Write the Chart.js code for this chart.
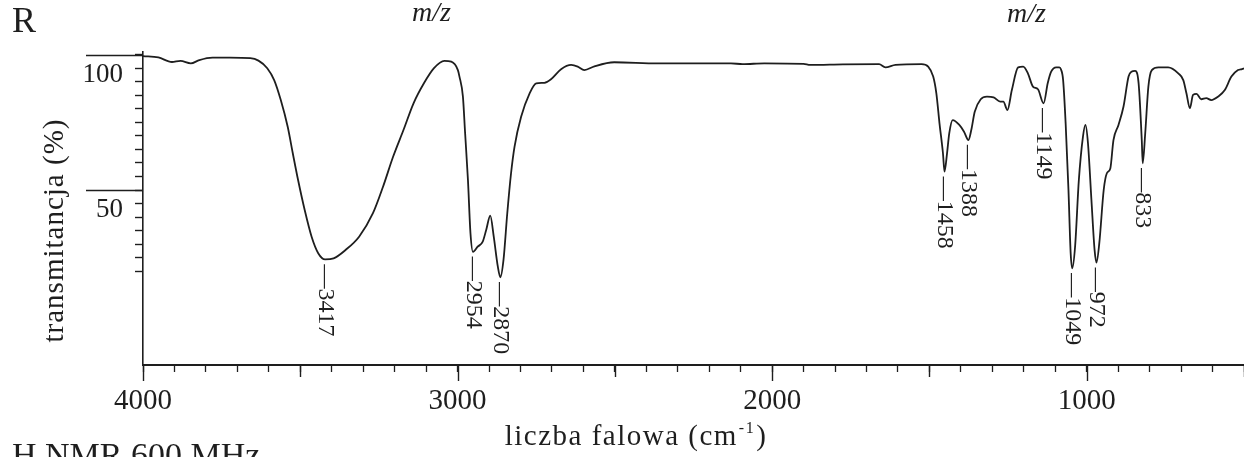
<!DOCTYPE html>
<html>
<head>
<meta charset="utf-8">
<script src="https://cdn.jsdelivr.net/npm/chart.js@4.4.1/dist/chart.umd.min.js"></script>
<style>
html,body{margin:0;padding:0;background:#fff;overflow:hidden}
canvas{display:block}
</style>
</head>
<body>
<canvas id="c" width="1244" height="457"></canvas>
<script>
// ---- data ----
const wavenumbers = [4000, 3951, 3908, 3881, 3848, 3821, 3779, 3724, 3659, 3633, 3605, 3583, 3562, 3540, 3524, 3507, 3486, 3464, 3443, 3421, 3394, 3356, 3313, 3269, 3237, 3205, 3172, 3140, 3107, 3075, 3042, 3020, 2999, 2994, 2983, 2976, 2967, 2959, 2951, 2936, 2920, 2909, 2896, 2885, 2872, 2864, 2854, 2842, 2830, 2819, 2798, 2771, 2750, 2724, 2703, 2671, 2639, 2618, 2597, 2565, 2502, 2364, 2131, 2094, 2025, 1900, 1879, 1775, 1660, 1640, 1608, 1525, 1504, 1488, 1478, 1468, 1457, 1452, 1444, 1437, 1426, 1405, 1390, 1376, 1367, 1356, 1337, 1317, 1296, 1275, 1265, 1252, 1238, 1218, 1202, 1187, 1171, 1155, 1137, 1124, 1113, 1097, 1087, 1082, 1075, 1067, 1058, 1051, 1046, 1037, 1025, 1012, 1004, 996, 985, 975, 969, 960, 946, 936, 925, 915, 899, 883, 867, 858, 846, 835, 825, 822, 814, 804, 793, 772, 741, 709, 693, 683, 672, 662, 651, 636, 620, 604, 582, 561, 540, 519, 506, 500];
const transmittance = [99.6, 99.1, 97.4, 97.8, 96.9, 98.1, 99.0, 99.0, 98.8, 97.9, 95.1, 90.7, 83.3, 73.4, 63.7, 53.7, 42.6, 32.7, 26.6, 24.3, 24.7, 27.8, 32.7, 41.4, 51.2, 62.3, 72.2, 82.1, 89.5, 95.1, 97.8, 97.5, 94.4, 92.0, 84.6, 71.0, 53.7, 34.0, 27.1, 29.0, 30.9, 35.2, 40.5, 32.7, 21.6, 17.7, 24.1, 41.4, 56.2, 66.0, 77.1, 85.8, 89.5, 89.7, 91.0, 94.7, 96.3, 95.7, 94.4, 95.8, 97.3, 96.9, 96.9, 96.6, 96.9, 96.7, 96.3, 96.5, 96.6, 95.4, 96.3, 96.6, 95.7, 92.0, 85.8, 74.7, 63.6, 56.8, 63.6, 71.0, 75.9, 74.1, 71.6, 68.5, 72.2, 79.0, 83.6, 84.6, 84.3, 82.7, 82.7, 79.6, 87.0, 95.4, 95.7, 93.2, 88.3, 87.3, 82.1, 89.5, 93.8, 95.4, 95.4, 94.7, 90.7, 74.7, 50.0, 26.6, 21.0, 29.0, 53.7, 69.7, 74.1, 67.3, 46.3, 27.8, 23.1, 30.3, 50.0, 56.2, 58.0, 68.5, 74.1, 80.9, 92.0, 93.8, 94.1, 89.5, 68.5, 59.9, 71.0, 88.3, 94.4, 95.4, 95.4, 93.2, 90.7, 85.8, 80.3, 85.2, 85.6, 83.6, 84.0, 83.3, 84.6, 87.0, 92.0, 94.4, 94.8, 95.0];
const peakLabels = [3417, 2954, 2870, 1458, 1388, 1149, 1049, 972, 833];
const xTickValues = [4000, 3900, 3800, 3700, 3600, 3500, 3400, 3300, 3200, 3100, 3000, 2900, 2800, 2700, 2600, 2500, 2400, 2300, 2200, 2100, 2000, 1900, 1800, 1700, 1600, 1500, 1400, 1300, 1200, 1100, 1000, 900, 800, 700, 600, 500];
const xTickLabels = [4000, 3000, 2000, 1000];
const yTickValues = [100, 95, 90, 85, 80, 75, 70, 65, 60, 55, 50, 45, 40, 35, 30, 25, 20];
const yTickLabels = [100, 50];
const xTitle = 'liczba falowa (cm';
const xTitleSup = '-1';
const xTitleEnd = ')';
const yTitle = 'transmitancja (%)';
const strayTexts = ['R', 'm/z', 'm/z', 'H NMR 600 MHz'];

// ---- styling ----
const SERIF = "'Liberation Serif', 'Times New Roman', serif";
const INK = '#1e1e1e';

const annot = {
  id: 'annot',
  beforeDraw(chart) {
    const c = chart.ctx;
    c.save(); c.fillStyle = '#fff'; c.fillRect(0, 0, chart.width, chart.height); c.restore();
  },
  afterDraw(chart) {
    const ctx = chart.ctx, xs = chart.scales.x, ys = chart.scales.y, ca = chart.chartArea;
    ctx.save();
    ctx.strokeStyle = INK; ctx.lineWidth = 1.4;
    // longer x ticks at 500 / 1000
    xTickValues.forEach(v => {
      const len = v % 1000 === 0 ? 16 : (v % 500 === 0 ? 12 : 0);
      if (!len) return;
      const px = Math.round(xs.getPixelForValue(v)) + 0.5;
      ctx.beginPath(); ctx.moveTo(px, ca.bottom); ctx.lineTo(px, ca.bottom + len); ctx.stroke();
    });
    // long y ticks at labelled values
    ctx.lineWidth = 1.6;
    yTickLabels.forEach(v => {
      const py = Math.round(ys.getPixelForValue(v)) + 0.5;
      ctx.beginPath(); ctx.moveTo(ca.left - 57, py); ctx.lineTo(ca.left, py); ctx.stroke();
    });
    // peak labels (rotated)
    ctx.fillStyle = INK;
    ctx.font = '24px ' + SERIF;
    ctx.textAlign = 'left'; ctx.textBaseline = 'middle';
    peakLabels.forEach(p => {
      let best = -1;
      wavenumbers.forEach((w, i) => {
        if (Math.abs(w - p) <= 20 && (best < 0 || transmittance[i] < transmittance[best])) best = i;
      });
      const px = xs.getPixelForValue(wavenumbers[best]);
      const py = ys.getPixelForValue(transmittance[best]);
      ctx.save(); ctx.translate(px, py + 5); ctx.rotate(Math.PI / 2);
      ctx.fillText('\u2014' + p, 0, 0); ctx.restore();
    });
    // y axis title
    ctx.save();
    ctx.font = '29px ' + SERIF;
    try { ctx.letterSpacing = '1px'; } catch (e) {}
    ctx.translate(55, (ca.top + ca.bottom) / 2 + 22); ctx.rotate(-Math.PI / 2);
    ctx.textAlign = 'center'; ctx.textBaseline = 'middle';
    ctx.fillText(yTitle, 0, 0);
    ctx.restore();
    // x axis title with superscript
    ctx.save();
    ctx.textBaseline = 'alphabetic'; ctx.textAlign = 'left';
    try { ctx.letterSpacing = '1.5px'; } catch (e) {}
    ctx.font = '29px ' + SERIF;
    const w1 = ctx.measureText(xTitle).width, w3 = ctx.measureText(xTitleEnd).width;
    ctx.font = '16px ' + SERIF;
    const w2 = ctx.measureText(xTitleSup).width;
    let x0 = 636 - (w1 + w2 + w3 + 2) / 2;
    const base = 445;
    ctx.font = '29px ' + SERIF; ctx.fillText(xTitle, x0, base);
    ctx.font = '16px ' + SERIF; ctx.fillText(xTitleSup, x0 + w1 + 1, base - 12);
    ctx.font = '29px ' + SERIF; ctx.fillText(xTitleEnd, x0 + w1 + w2 + 2, base);
    ctx.restore();
    // stray scanned texts
    ctx.textAlign = 'left'; ctx.textBaseline = 'alphabetic';
    ctx.font = '36px ' + SERIF; ctx.fillText(strayTexts[0], 12, 32);
    ctx.font = 'italic 28px ' + SERIF; ctx.fillText(strayTexts[1], 412, 21);
    ctx.fillText(strayTexts[2], 1007, 22);
    ctx.font = '34px ' + SERIF; ctx.fillText(strayTexts[3], 12, 466);
    ctx.restore();
  }
};

new Chart(document.getElementById('c'), {
  type: 'line',
  data: {
    datasets: [{
      data: wavenumbers.map((w, i) => ({ x: w, y: transmittance[i] })),
      borderColor: INK,
      borderWidth: 1.8,
      pointRadius: 0,
      fill: false,
      cubicInterpolationMode: 'monotone',
      clip: false
    }]
  },
  options: {
    responsive: false,
    animation: false,
    events: [],
    layout: { padding: { top: 52, left: 0, right: 0, bottom: 0 } },
    plugins: { legend: { display: false }, tooltip: { enabled: false } },
    scales: {
      x: {
        type: 'linear', reverse: true, min: 500, max: 4000, position: 'bottom',
        afterBuildTicks: s => { s.ticks = xTickValues.map(v => ({ value: v })); },
        afterFit: s => { s.height = 92; },
        grid: { drawOnChartArea: false, drawTicks: true, tickLength: 7, tickColor: INK, tickWidth: 1.3 },
        border: { display: true, color: INK, width: 2 },
        ticks: {
          autoSkip: false, maxRotation: 0, minRotation: 0, padding: 0, color: INK,
          font: { family: SERIF, size: 29, lineHeight: 2.03 },
          callback: v => xTickLabels.includes(v) ? String(v) : ''
        }
      },
      y: {
        type: 'linear', min: -14.8, max: 101.1,
        afterBuildTicks: s => { s.ticks = yTickValues.map(v => ({ value: v })); },
        afterFit: s => { s.width = 143; },
        grid: { drawOnChartArea: false, drawTicks: true, tickLength: 8, tickColor: INK, tickWidth: 1.4 },
        border: { display: true, color: INK, width: 1.6 },
        ticks: {
          autoSkip: false, padding: 12, labelOffset: 20, color: INK,
          font: { family: SERIF, size: 27 },
          callback: v => yTickLabels.includes(v) ? String(v) : ''
        }
      }
    }
  },
  plugins: [annot]
});
</script>
</body>
</html>
